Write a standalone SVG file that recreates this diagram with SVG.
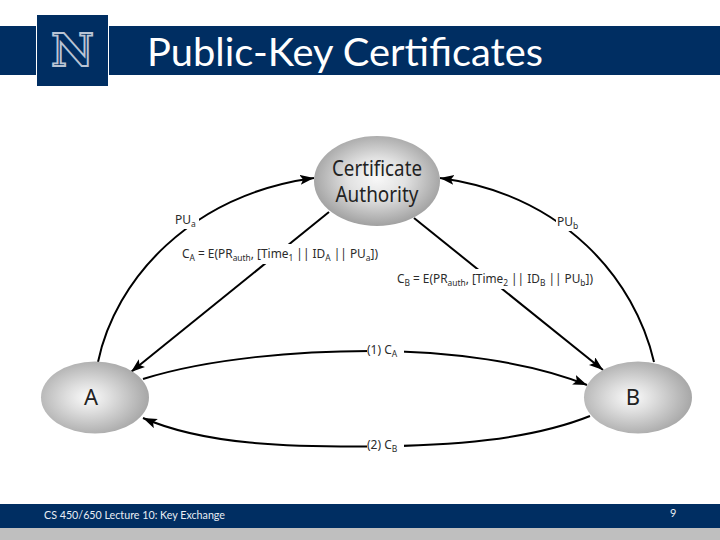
<svg xmlns="http://www.w3.org/2000/svg" width="720" height="540" viewBox="0 0 720 540">
<style>
.bar{fill:#002e62}
.conn{fill:none;stroke:#000;stroke-width:2}
.lbl{font-family:"Noto Sans","Open Sans",sans-serif;font-size:12px;fill:#2b2b2b}
.sub{font-size:8.5px}
.node{font-family:"Noto Sans","Open Sans",sans-serif;fill:#222}
.bg{fill:#fff}
.foot{font-family:Lato,"Open Sans",sans-serif;fill:#e8edf4}
</style>
<defs>
<marker id="arrow" markerUnits="userSpaceOnUse" markerWidth="16" markerHeight="12" refX="14" refY="5" orient="auto">
<path d="M0 0L14 5L0 10L3 5Z" fill="#000"/>
</marker>
<radialGradient id="gca" cx="0.5" cy="0.47" r="0.56">
<stop offset="0" stop-color="#f8f8f8"/><stop offset="0.4" stop-color="#e2e2e2"/><stop offset="1" stop-color="#9a9a9a"/>
</radialGradient>
<radialGradient id="gab" cx="0.44" cy="0.5" r="0.58">
<stop offset="0" stop-color="#fbfbfb"/><stop offset="0.35" stop-color="#dedede"/><stop offset="1" stop-color="#a4a4a4"/>
</radialGradient>
</defs>

<g id="header">
<rect class="bar" x="0" y="26" width="720" height="49"/>
<rect x="36" y="14" width="73" height="73" fill="#fff"/>
<rect class="bar" x="37" y="15" width="71" height="71"/>
<text x="72.5" y="66" text-anchor="middle" font-family="'DejaVu Serif',serif" font-weight="700" font-size="45" textLength="43" lengthAdjust="spacingAndGlyphs" fill="#002e62" stroke="#b9c4d4" stroke-width="1.8">N</text>
<text x="147" y="66" font-family="Lato,'Open Sans',sans-serif" font-size="38" fill="#fff" textLength="396" lengthAdjust="spacingAndGlyphs">Public-Key Certificates</text>
</g>

<g id="connectors">
<path class="conn" marker-end="url(#arrow)" d="M98 362C115 280 190 195 314 178"/>
<path class="conn" marker-end="url(#arrow)" d="M654 362C635 280 565 195 440 178"/>
<path class="conn" marker-end="url(#arrow)" d="M329 212L131 372"/>
<path class="conn" marker-end="url(#arrow)" d="M414 218L603 370"/>
<path class="conn" marker-end="url(#arrow)" d="M143 379C210 358 300 351 370 351C450 351 530 362 587 385"/>
<path class="conn" marker-end="url(#arrow)" d="M590 416C530 440 450 446 370 446.5C290 447 205 445 143 418"/>
</g>

<g id="node-ca">
<ellipse cx="377" cy="181" rx="63" ry="45" fill="url(#gca)"/>
<text class="node" x="377" y="176" text-anchor="middle" font-size="21" textLength="90" lengthAdjust="spacingAndGlyphs">Certificate</text>
<text class="node" x="377" y="202" text-anchor="middle" font-size="21" textLength="83" lengthAdjust="spacingAndGlyphs">Authority</text>
</g>
<g id="node-a">
<ellipse cx="95" cy="397.5" rx="54" ry="36" fill="url(#gab)"/>
<text class="node" x="91" y="405" text-anchor="middle" font-size="22">A</text>
</g>
<g id="node-b">
<ellipse cx="638" cy="397.5" rx="54" ry="36" fill="url(#gab)"/>
<text class="node" x="633" y="405" text-anchor="middle" font-size="22">B</text>
</g>

<g id="labels">
<rect class="bg" x="174" y="211" width="25" height="18"/>
<text class="lbl" x="175" y="224">PU<tspan class="sub" dy="3">a</tspan></text>
<rect class="bg" x="556" y="213" width="24" height="18"/>
<text class="lbl" x="557" y="226">PU<tspan class="sub" dy="3">b</tspan></text>
<rect class="bg" x="181" y="244" width="199" height="20"/>
<text class="lbl" x="182" y="258" textLength="196" lengthAdjust="spacingAndGlyphs">C<tspan class="sub" dy="3">A</tspan><tspan dy="-3"> = E(PR</tspan><tspan class="sub" dy="3">auth</tspan><tspan dy="-3">, [Time</tspan><tspan class="sub" dy="3">1</tspan><tspan dy="-3"> || ID</tspan><tspan class="sub" dy="3">A</tspan><tspan dy="-3"> || PU</tspan><tspan class="sub" dy="3">a</tspan><tspan dy="-3">])</tspan></text>
<rect class="bg" x="396" y="269" width="199" height="20"/>
<text class="lbl" x="397" y="283" textLength="196" lengthAdjust="spacingAndGlyphs">C<tspan class="sub" dy="3">B</tspan><tspan dy="-3"> = E(PR</tspan><tspan class="sub" dy="3">auth</tspan><tspan dy="-3">, [Time</tspan><tspan class="sub" dy="3">2</tspan><tspan dy="-3"> || ID</tspan><tspan class="sub" dy="3">B</tspan><tspan dy="-3"> || PU</tspan><tspan class="sub" dy="3">b</tspan><tspan dy="-3">])</tspan></text>
<rect class="bg" x="367" y="342" width="37" height="18"/>
<text class="lbl" x="367" y="354">(1) C<tspan class="sub" dy="3">A</tspan></text>
<rect class="bg" x="367" y="437" width="37" height="18"/>
<text class="lbl" x="367" y="449">(2) C<tspan class="sub" dy="3">B</tspan></text>
</g>

<g id="footer">
<rect class="bar" x="0" y="504" width="720" height="24"/>
<rect x="0" y="528" width="720" height="12" fill="#bfbfbf"/>
<text class="foot" x="44" y="519" font-size="11" textLength="181" lengthAdjust="spacingAndGlyphs">CS 450/650 Lecture 10: Key Exchange</text>
<text class="foot" x="670" y="517" font-size="11">9</text>
</g>
</svg>
